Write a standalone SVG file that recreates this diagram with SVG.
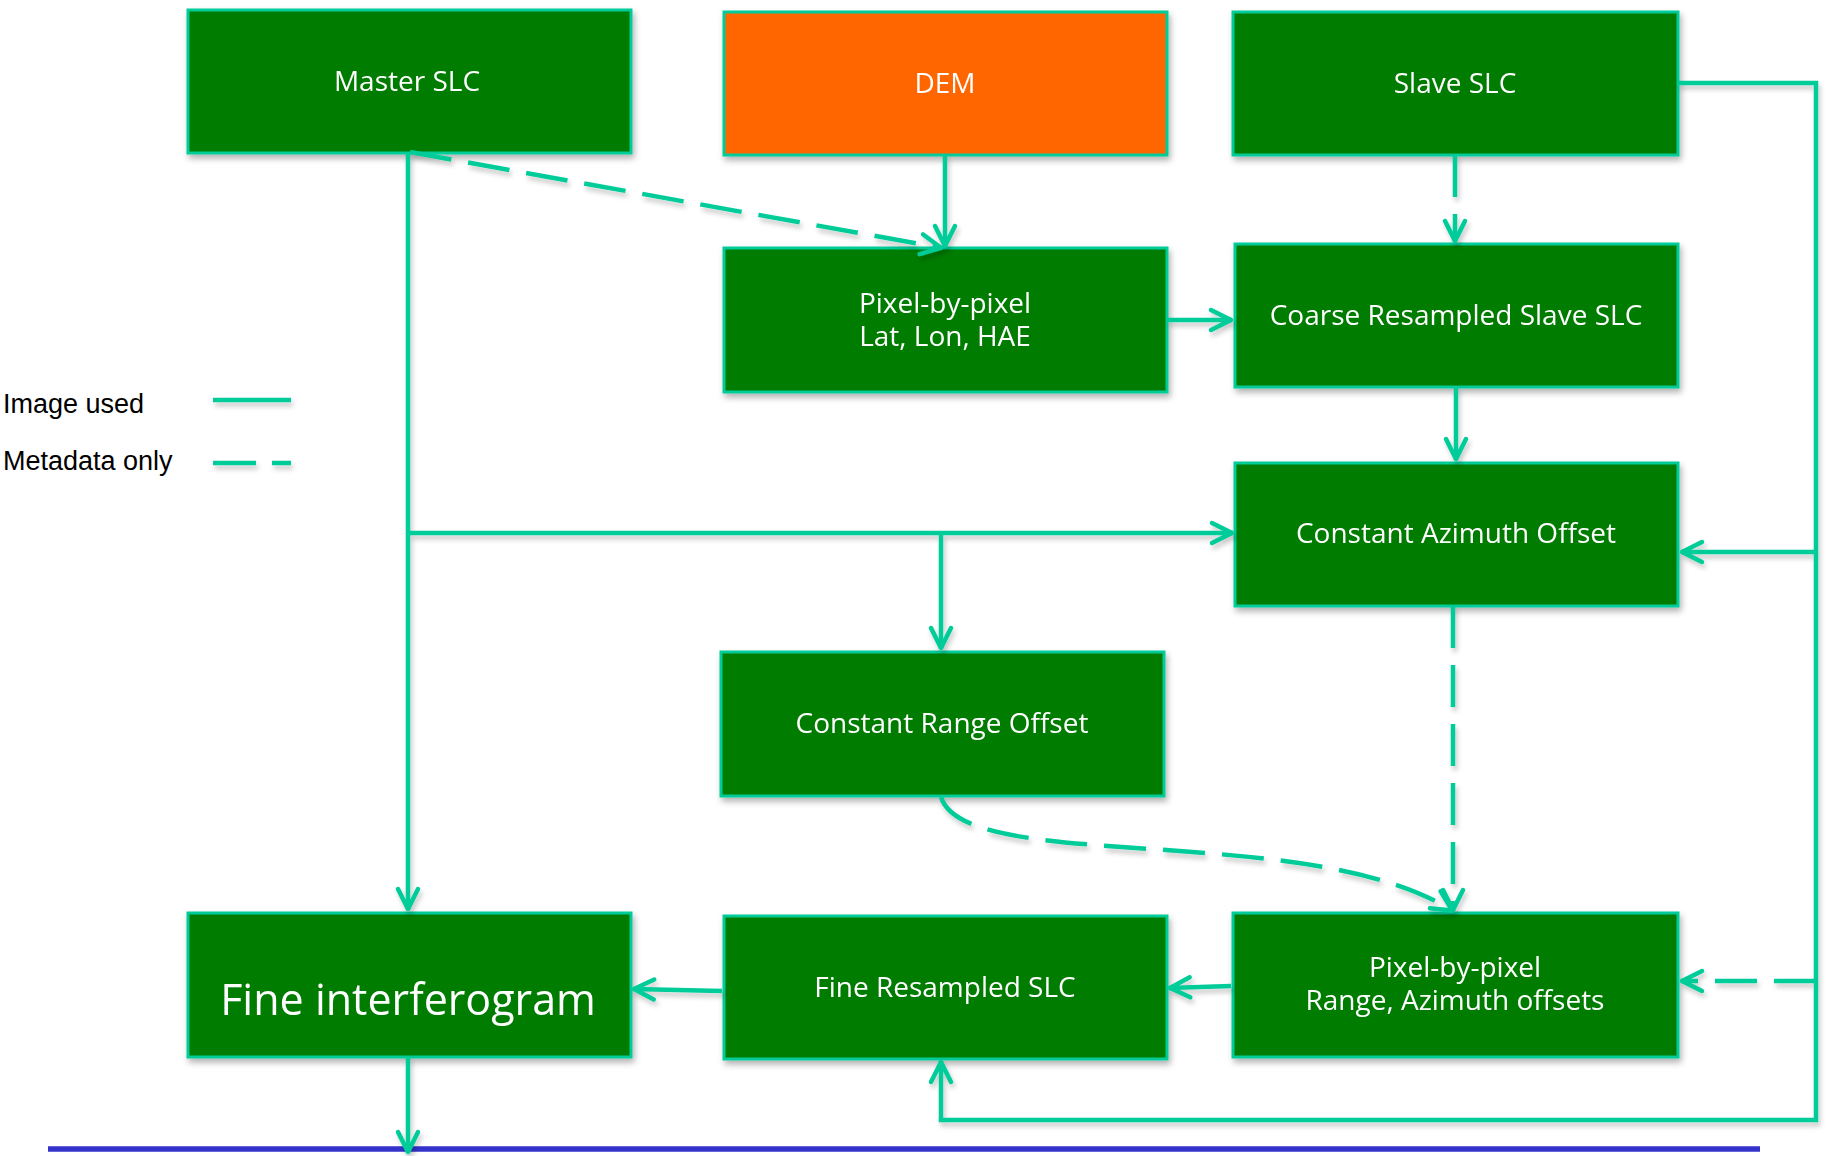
<svg xmlns="http://www.w3.org/2000/svg" width="1827" height="1156" viewBox="0 0 1827 1156">
  <style>
    .box { fill: #007B00; stroke: #00CC99; stroke-width: 3; }
    .dem { fill: #FF6600; stroke: #00CC99; stroke-width: 3; }
    .lbl { font-family: "Open Sans", "Noto Sans", sans-serif; font-size: 28px; fill: #FFFFFF; text-anchor: middle; }
    .big { font-size: 43px; }
    .leg { font-family: "Liberation Sans", Arial, sans-serif; font-size: 27px; fill: #000000; }
    .c { fill: none; stroke: #00CC99; stroke-width: 4.5; stroke-linejoin: miter; }
    .d { stroke-dasharray: 42 17; }
  </style>
  <defs>
    <filter id="sh" x="-10%" y="-10%" width="130%" height="140%">
      <feDropShadow dx="2" dy="4" stdDeviation="3" flood-color="#000000" flood-opacity="0.3"/>
    </filter>
    <filter id="shl" filterUnits="userSpaceOnUse" x="0" y="0" width="1827" height="1156">
      <feDropShadow dx="2" dy="4" stdDeviation="2.5" flood-color="#000000" flood-opacity="0.22"/>
    </filter>
    <marker id="arr" markerUnits="userSpaceOnUse" viewBox="-30 -20 40 40" markerWidth="40" markerHeight="40" refX="0" refY="0" orient="auto" overflow="visible">
      <path d="M-21,-10 L-1,0 L-21,10" fill="none" stroke="#00CC99" stroke-width="4.5" stroke-linecap="round" stroke-linejoin="round" stroke-dasharray="none"/>
    </marker>
  </defs>

  <rect x="0" y="0" width="1827" height="1156" fill="#FFFFFF"/>

  <!-- legend -->
  <g id="legend">
    <text class="leg" x="3" y="413">Image used</text>
    <text class="leg" x="3" y="470">Metadata only</text>
    <g filter="url(#shl)">
      <line class="c" x1="213" y1="400" x2="291" y2="400"/>
      <line class="c" x1="213" y1="463" x2="291" y2="463" style="stroke-dasharray:43 16"/>
    </g>
  </g>

  <!-- bottom blue rule -->
  <line x1="48" y1="1149" x2="1760" y2="1149" stroke="#3333CC" stroke-width="5.5"/>

  <!-- nodes -->
  <g id="master-slc" filter="url(#sh)">
    <rect class="box" x="188" y="10" width="443" height="143"/>
    <text class="lbl" x="407" y="91">Master SLC</text>
  </g>
  <g id="dem" filter="url(#sh)">
    <rect class="dem" x="724" y="12" width="443" height="143"/>
    <text class="lbl" x="945" y="93">DEM</text>
  </g>
  <g id="slave-slc" filter="url(#sh)">
    <rect class="box" x="1233" y="12" width="445" height="143"/>
    <text class="lbl" x="1455" y="93">Slave SLC</text>
  </g>
  <g id="pixel-lat-lon" filter="url(#sh)">
    <rect class="box" x="724" y="248" width="443" height="144"/>
    <text class="lbl" x="945" y="313">Pixel-by-pixel</text>
    <text class="lbl" x="945" y="346">Lat, Lon, HAE</text>
  </g>
  <g id="coarse-resampled" filter="url(#sh)">
    <rect class="box" x="1235" y="244" width="443" height="143"/>
    <text class="lbl" x="1456" y="325">Coarse Resampled Slave SLC</text>
  </g>
  <g id="const-azimuth" filter="url(#sh)">
    <rect class="box" x="1235" y="463" width="443" height="143"/>
    <text class="lbl" x="1456" y="543">Constant Azimuth Offset</text>
  </g>
  <g id="const-range" filter="url(#sh)">
    <rect class="box" x="721" y="652" width="443" height="144"/>
    <text class="lbl" x="942" y="733">Constant Range Offset</text>
  </g>
  <g id="fine-interferogram" filter="url(#sh)">
    <rect class="box" x="188" y="913" width="443" height="144"/>
    <text class="lbl big" x="408" y="1015">Fine interferogram</text>
  </g>
  <g id="fine-resampled" filter="url(#sh)">
    <rect class="box" x="724" y="916" width="443" height="143"/>
    <text class="lbl" x="945" y="997">Fine Resampled SLC</text>
  </g>
  <g id="pixel-offsets" filter="url(#sh)">
    <rect class="box" x="1233" y="913" width="445" height="144"/>
    <text class="lbl" x="1455" y="977">Pixel-by-pixel</text>
    <text class="lbl" x="1455" y="1010">Range, Azimuth offsets</text>
  </g>

  <!-- connectors -->
  <g id="connectors" filter="url(#shl)">
    <path class="c" d="M408,153 L408,910" marker-end="url(#arr)"/>
    <path class="c" d="M408,533 L1233,533" marker-end="url(#arr)"/>
    <path class="c" d="M941,533 L941,649" marker-end="url(#arr)"/>
    <path class="c d" d="M410,152 L942,248" marker-end="url(#arr)"/>
    <path class="c" d="M945,155 L945,247" marker-end="url(#arr)"/>
    <path class="c" d="M1167,320 L1232,320" marker-end="url(#arr)"/>
    <path class="c d" d="M1455,155 L1455,242" marker-end="url(#arr)"/>
    <path class="c" d="M1456,387 L1456,460" marker-end="url(#arr)"/>
    <path class="c" d="M1678,83 L1816,83 L1816,1120 L941,1120 L941,1061" marker-end="url(#arr)"/>
    <path class="c" d="M1816,552 L1681,552" marker-end="url(#arr)"/>
    <path class="c d" d="M1816,981 L1681,981" marker-end="url(#arr)"/>
    <path class="c d" d="M1453,606 L1453,911" marker-end="url(#arr)"/>
    <path class="c d" d="M941,797 C965,875 1310,820 1453,911" marker-end="url(#arr)"/>
    <path class="c" d="M1231,986 L1169,988" marker-end="url(#arr)"/>
    <path class="c" d="M722,991 L633,989" marker-end="url(#arr)"/>
    <path class="c" d="M408,1057 L408,1153" marker-end="url(#arr)"/>
  </g>
</svg>
